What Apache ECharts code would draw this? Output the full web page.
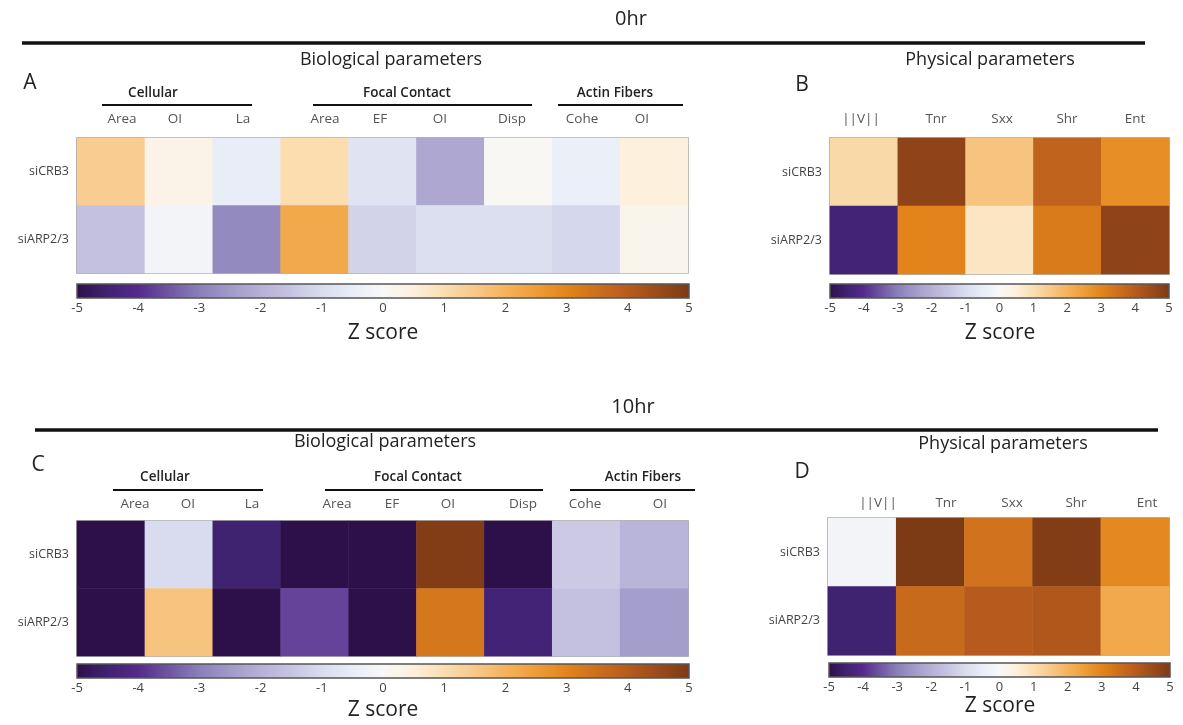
<!DOCTYPE html>
<html>
<head>
<meta charset="utf-8">
<script src="https://cdn.jsdelivr.net/npm/echarts@6/dist/echarts.min.js"></script>
<style>
html,body{margin:0;padding:0;background:#fff;}
#chart{width:1183px;height:725px;}
</style>
</head>
<body>
<div id="chart"></div>
<script>
// ---------------- DATA ----------------
const rowLabels = ['siCRB3', 'siARP2/3'];
const bioCols = ['Area', 'OI', 'La', 'Area', 'EF', 'OI', 'Disp', 'Cohe', 'OI'];
const physCols = ['||V||', 'Tnr', 'Sxx', 'Shr', 'Ent'];
const bioGroups = ['Cellular', 'Focal Contact', 'Actin Fibers'];
const zTicks = [-5, -4, -3, -2, -1, 0, 1, 2, 3, 4, 5];

// 0hr, biological parameters (panel A)
const bio0_siCRB3 = [1.4, 0.3, -0.5, 1.0, -0.8, -2.2, 0.05, -0.4, 0.5];
const bio0_siARP  = [-1.6, -0.2, -2.8, 2.2, -1.2, -0.9, -0.9, -1.1, 0.2];
// 0hr, physical parameters (panel B)
const phys0_siCRB3 = [1.1, 4.7, 1.6, 3.8, 2.8];
const phys0_siARP  = [-4.4, 3.0, 0.8, 3.2, 4.7];
// 10hr, biological parameters (panel C)
const bio10_siCRB3 = [-5, -1.0, -4.5, -5, -5, 4.9, -5, -1.4, -1.9];
const bio10_siARP  = [-5, 1.6, -5, -3.7, -5, 3.3, -4.4, -1.6, -2.4];
// 10hr, physical parameters (panel D)
const phys10_siCRB3 = [-0.2, 5.0, 3.4, 4.9, 2.9];
const phys10_siARP  = [-4.5, 3.6, 4.0, 4.1, 2.2];

// ---------------- STYLE ----------------
const FONT = "'Open Sans', 'Noto Sans', sans-serif";
// colormap sampled every 0.5 from -5 to 5
const cmap = ['#2d1049','#3f2270','#55298c','#6e55a2','#8a7fb9','#a09ac9','#b6b0d7','#c7c4e2','#d9dcee','#e8edf7',
              '#f8f8f7','#fdf0dc','#fbddb0','#f8c88a','#f5b25a','#ee9c38','#e2841b','#cd6e1c','#b65b1d','#9a4a1a','#7c3a15'];
const gradient = {type:'linear', x:0, y:0, x2:1, y2:0,
  colorStops: cmap.map((c,i)=>({offset:i/(cmap.length-1), color:c}))};

function toCells(rowsVals){
  const out = [];
  rowsVals.forEach((vals, r) => vals.forEach((v, c) => out.push([c, r, v])));
  return out;
}

// layout
const heatGrids = [
  {left:77,  top:138, width:611, height:135}, // A
  {left:830, top:138, width:339, height:136}, // B
  {left:77,  top:521, width:611, height:135}, // C
  {left:828, top:518, width:341, height:137}  // D
];
const barGrids = [
  {left:77,  top:284, width:612, height:14},
  {left:830, top:284, width:339, height:14},
  {left:77,  top:664, width:612, height:14},
  {left:829, top:663, width:341, height:14}
];
const panelCols = [bioCols, physCols, bioCols, physCols];
const panelData = [
  toCells([bio0_siCRB3, bio0_siARP]),
  toCells([phys0_siCRB3, phys0_siARP]),
  toCells([bio10_siCRB3, bio10_siARP]),
  toCells([phys10_siCRB3, phys10_siARP])
];

const grid = [], xAxis = [], yAxis = [], series = [];
heatGrids.forEach((g, i) => {
  grid.push(Object.assign({show:true, borderColor:'#9a9a9a', borderWidth:1.6, backgroundColor:'transparent', containLabel:false}, g));
  xAxis.push({type:'category', gridIndex:i, data:panelCols[i], position:'top',
    axisLine:{show:false}, axisTick:{show:false}, axisLabel:{show:false}, splitLine:{show:false}});
  yAxis.push({type:'category', gridIndex:i, data:rowLabels, inverse:true,
    axisLine:{show:false}, axisTick:{show:false}, splitLine:{show:false},
    axisLabel:{fontFamily:FONT, fontSize:12.5, color:'#444', margin:8}});
  series.push({type:'heatmap', xAxisIndex:i, yAxisIndex:i, data:panelData[i],
    itemStyle:{borderWidth:0}, emphasis:{disabled:true}, silent:true, progressive:0});
});
barGrids.forEach((g, j) => {
  const gi = heatGrids.length + j;
  grid.push(Object.assign({show:true, borderColor:'#555', borderWidth:1.5, backgroundColor:gradient}, g));
  xAxis.push({type:'value', gridIndex:gi, min:zTicks[0], max:zTicks[zTicks.length-1], interval:1,
    axisLine:{show:false}, axisTick:{show:false}, splitLine:{show:false},
    axisLabel:{fontFamily:FONT, fontSize:13, color:'#444', margin:4,
      formatter: v => zTicks.indexOf(v) >= 0 ? String(v) : ''}});
  yAxis.push({type:'value', gridIndex:gi, show:false});
});

// annotation graphics
const G = [];
function txt(x, y, s, size, opt){
  G.push({type:'text', x:x, y:y, silent:true, style:Object.assign({text:s, fontFamily:FONT, fontSize:size,
    fill:'#222', align:'center', verticalAlign:'middle'}, opt||{})});
}
function line(x1, y1, x2, y2, w){
  G.push({type:'line', silent:true, shape:{x1:x1, y1:y1, x2:x2, y2:y2}, style:{stroke:'#111', lineWidth:w}});
}
// headers
txt(631, 19, '0hr', 20);
line(22, 43, 1145, 43, 3.5);
txt(391, 60, 'Biological parameters', 18);
txt(990, 60, 'Physical parameters', 18);
txt(30, 83, 'A', 21);
txt(802, 85, 'B', 21);
txt(633, 407, '10hr', 20);
line(35, 430, 1158, 430, 3.5);
txt(385, 442, 'Biological parameters', 18);
txt(1003, 444, 'Physical parameters', 18);
txt(38, 465, 'C', 21);
txt(802, 472, 'D', 21);

// group labels + underlines
const grpA = {lab:[153, 407, 615], ln:[[102,252],[313,532],[558,683]], ty:93, ly:105};
const grpC = {lab:[165, 418, 643], ln:[[113,263],[325,543],[570,695]], ty:477, ly:490};
[grpA, grpC].forEach(g => {
  bioGroups.forEach((name, k) => {
    txt(g.lab[k], g.ty, name, 13.5, {fontWeight:600});
    line(g.ln[k][0], g.ly, g.ln[k][1], g.ly, 1.8);
  });
});
// column labels
const colXA = [122, 175, 243, 325, 380, 440, 512, 582, 642];
const colXC = [135, 188, 252, 337, 392, 448, 523, 585, 660];
const colXB = [861, 936, 1002, 1067, 1135];
const colXD = [878, 946, 1012, 1076, 1147];
bioCols.forEach((c, k) => { txt(colXA[k], 119, c, 13.5, {fill:'#555'}); txt(colXC[k], 504, c, 13.5, {fill:'#555'}); });
physCols.forEach((c, k) => { txt(colXB[k], 119, c, 13.5, {fill:'#555'}); txt(colXD[k], 503, c, 13.5, {fill:'#555'}); });
// colorbar titles
txt(383, 333, 'Z score', 21);
txt(1000, 333, 'Z score', 21);
txt(383, 710, 'Z score', 21);
txt(1000, 706, 'Z score', 21);

const chart = echarts.init(document.getElementById('chart'), null, {renderer:'canvas'});
chart.setOption({
  animation:false,
  backgroundColor:'#fff',
  grid: grid, xAxis: xAxis, yAxis: yAxis, series: series,
  visualMap: [{type:'continuous', min:-5, max:5, seriesIndex:[0,1,2,3], show:false, inRange:{color:cmap}}],
  graphic: G
});
</script>
</body>
</html>
